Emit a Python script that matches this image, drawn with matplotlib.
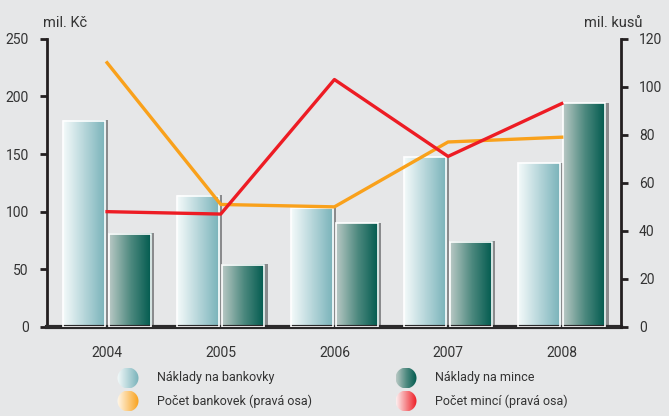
import numpy as np
import matplotlib
matplotlib.use("Agg")
from matplotlib import pyplot as plt
from matplotlib.colors import LinearSegmentedColormap
from matplotlib.patches import Circle

plt.rcParams["font.family"] = ["Roboto", "DejaVu Sans"]

years = ["2004", "2005", "2006", "2007", "2008"]
naklady_bankovky = [179, 114, 103, 147, 142]   # mil. Kč
naklady_mince = [81, 54, 90, 74, 194]          # mil. Kč
pocet_bankovek = [110, 51, 50, 77, 79]         # mil. kusů
pocet_minci = [48, 47, 103, 71, 93]            # mil. kusů

bg = "#e6e7e8"
txt = "#333333"
cm_bank = LinearSegmentedColormap.from_list("bank", ["#f4fafa", "#b6d6da", "#78b2b9"])
cm_coin = LinearSegmentedColormap.from_list("coin", ["#b8c8c4", "#4f8a80", "#005a4e"])
cm_orange = LinearSegmentedColormap.from_list("or", ["#fff8ec", "#f9a11b"])
cm_red = LinearSegmentedColormap.from_list("rd", ["#fdeeee", "#ed1c24"])

fig = plt.figure(figsize=(6.69, 4.16), dpi=100, facecolor=bg)
ax = fig.add_axes([0.070, 0.214, 0.858, 0.693], facecolor=bg)

x = np.arange(len(years))
w = 0.37
off = 0.2
grad = np.linspace(0, 1, 64).reshape(1, -1)


def gradient_bar(xc, h, cmap):
    x0, x1 = xc - w / 2, xc + w / 2
    # grey shadow on the right
    ax.bar(x1 + 0.012, h + 0.5, width=0.03, bottom=0, color="#8a8b8d", zorder=1)
    ax.imshow(grad, extent=[x0, x1, 0, h], aspect="auto", cmap=cmap, zorder=2)
    ax.bar(xc, h, width=w, fill=False, edgecolor="white", linewidth=1.2, zorder=3)


for i in range(len(years)):
    gradient_bar(x[i] - off, naklady_bankovky[i], cm_bank)
    gradient_bar(x[i] + off, naklady_mince[i], cm_coin)

ax.set_xlim(-0.53, 4.52)
ax.set_ylim(0, 250)
ax.set_yticks(range(0, 251, 50))
ax.set_xticks(x)
ax.set_xticklabels(years)
for s in ["top", "right"]:
    ax.spines[s].set_visible(False)
ax.spines["left"].set_linewidth(2)
ax.spines["left"].set_color("#231f20")
ax.spines["bottom"].set_linewidth(3)
ax.spines["bottom"].set_color("#2b2a2b")
ax.tick_params(axis="y", length=5, width=2, color="#231f20", pad=8,
               labelsize=10, labelcolor=txt)
ax.tick_params(axis="x", length=0, pad=14, labelsize=10, labelcolor=txt)

ax2 = ax.twinx()
ax2.set_ylim(0, 120)
ax2.set_yticks(range(0, 121, 20))
ax2.plot(x, pocet_bankovek, color="#f9a11b", lw=2.4, zorder=5)
ax2.plot(x, pocet_minci, color="#ed1c24", lw=2.4, zorder=5)
for s in ["top", "left", "bottom"]:
    ax2.spines[s].set_visible(False)
ax2.spines["right"].set_linewidth(2)
ax2.spines["right"].set_color("#231f20")
ax2.tick_params(axis="y", length=5, width=2, color="#231f20", pad=8,
                labelsize=10, labelcolor=txt)

fig.text(0.064, 0.945, "mil. Kč", fontsize=10.5, color=txt, ha="left", va="center")
fig.text(0.961, 0.945, "mil. kusů", fontsize=10.5, color=txt, ha="right", va="center")

# legend with gradient circles
legend_items = [
    (128, 378, cm_bank, "Náklady na bankovky"),
    (406, 378, cm_coin, "Náklady na mince"),
    (128, 401, cm_orange, "Počet bankovek (pravá osa)"),
    (406, 401, cm_red, "Počet mincí (pravá osa)"),
]
W, H = 669, 416
r = 10.5
for cx, cy, cmap, label in legend_items:
    lax = fig.add_axes([(cx - r) / W, 1 - (cy + r) / H, 2 * r / W, 2 * r / H])
    lax.set_axis_off()
    im = lax.imshow(grad, extent=[0, 1, 0, 1], aspect="auto", cmap=cmap)
    circ = Circle((0.5, 0.5), 0.5, transform=lax.transData)
    im.set_clip_path(circ)
    lax.set_xlim(0, 1)
    lax.set_ylim(0, 1)
    fig.text((cx + 29) / W, 1 - cy / H, label, fontsize=9, color=txt,
             ha="left", va="center")

fig.savefig("out.png", dpi=100, facecolor=bg)
